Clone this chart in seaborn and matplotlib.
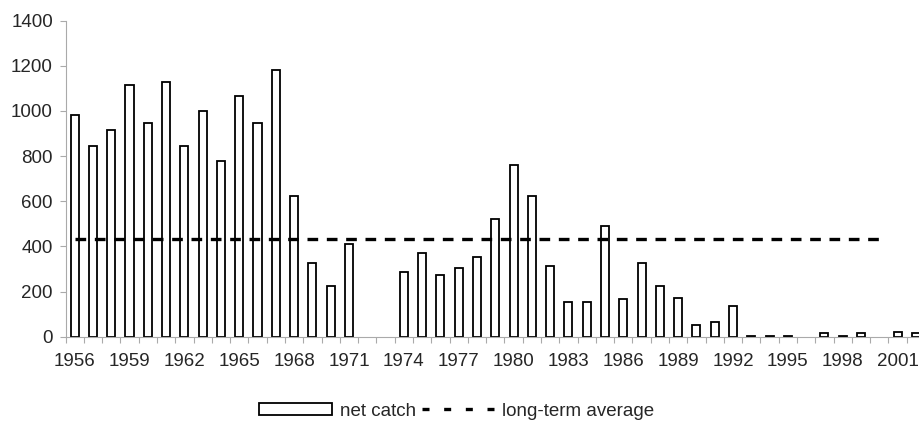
import numpy as np
import pandas as pd
import matplotlib
matplotlib.use("Agg")
import matplotlib.pyplot as plt
import seaborn as sns
from matplotlib.patches import Patch
from matplotlib.lines import Line2D

years = list(range(1956, 2003))
net_catch = [980, 845, 915, 1115, 945, 1130, 845, 1000, 780, 1065,
             945, 1180, 625, 325, 225, 410, np.nan, np.nan, 285, 370,
             275, 305, 355, 520, 760, 625, 315, 155, 155, 490,
             165, 325, 225, 170, 50, 65, 135, 4, 4, 4,
             np.nan, 15, 4, 15, np.nan, 20, 18]
avg_years = list(range(1956, 2001))
long_term_average = [435] * len(avg_years)
tick_years = list(range(1956, 2002, 3))
yticks = [0, 200, 400, 600, 800, 1000, 1200, 1400]

sns.set_theme(style="white")
plt.rcParams['font.family'] = ['Liberation Sans', 'DejaVu Sans']

df = pd.DataFrame({"year": [str(y) for y in years], "catch": net_catch})

fig = plt.figure(figsize=(9.19, 4.23), dpi=100)
ax = fig.add_axes([65.5 / 919, (423 - 336.7) / 423, (925 - 65.5) / 919, (336.7 - 20.7) / 423])

sns.barplot(data=df, x="year", y="catch", order=[str(y) for y in years],
            color="white", edgecolor="black", linewidth=1.3, width=0.44,
            saturation=1, ax=ax)
for p in ax.patches:
    p.set_facecolor("white")

pos = {str(y): i for i, y in enumerate(years)}
avg_x = [pos[str(y)] for y in avg_years]
ax.plot(avg_x, long_term_average, color="black", lw=2.4,
        linestyle=(0, (3.2, 2.6)), solid_capstyle="butt", dash_capstyle="butt")

FS = 13.5
ax.set_xlim(-0.5, len(years) - 0.5)
ax.set_ylim(0, 1400)
ax.set_yticks(yticks)
ax.set_yticklabels([str(v) for v in yticks], fontsize=FS)
tick_pos = [pos[str(y)] for y in tick_years]
ax.set_xticks(tick_pos)
ax.set_xticklabels([str(y) for y in tick_years], fontsize=FS)
ax.set_xticks(np.arange(-0.5, len(years), 1), minor=True)
ax.tick_params(axis="x", which="major", length=0, pad=12)
ax.tick_params(axis="x", which="minor", length=4, color="#aaaaaa", width=0.8, bottom=True, direction="out")
ax.tick_params(axis="y", which="major", length=4, color="#aaaaaa", width=0.8, left=True, direction="out", pad=5)
ax.set_xlabel("")
ax.set_ylabel("")
for s in ["top", "right"]:
    ax.spines[s].set_visible(False)
for s in ["left", "bottom"]:
    ax.spines[s].set_color("#aaaaaa")
    ax.spines[s].set_linewidth(0.8)

handles = [Patch(facecolor="white", edgecolor="black", linewidth=1.3, label="net catch"),
           Line2D([0], [0], color="black", lw=2.4, linestyle=(0, (2.1, 4.4)), label="long-term average")]
fig.legend(handles=handles, loc="center", bbox_to_anchor=(0.497, (423 - 411) / 423),
           ncol=2, frameon=False, fontsize=FS, handlelength=3.9, handleheight=0.6,
           handletextpad=0.4, columnspacing=0.3)

fig.savefig("out.png", dpi=100)
